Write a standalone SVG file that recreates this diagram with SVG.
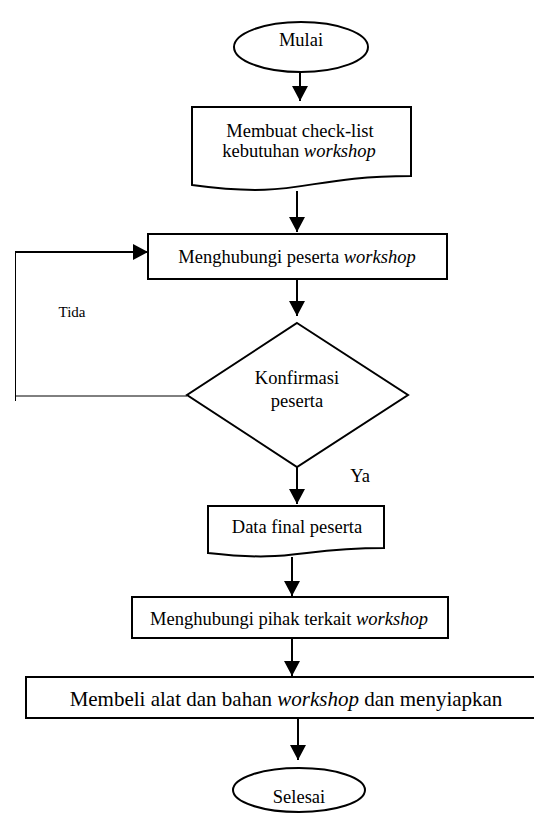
<svg xmlns="http://www.w3.org/2000/svg" width="534" height="816" viewBox="0 0 534 816">
<style>
.shape{fill:#fff;stroke:#000;stroke-width:2}
.conn{fill:none;stroke:#000;stroke-width:2}
.thin{fill:none;stroke:#000;stroke-width:1}
text{font-family:"Liberation Serif","Times New Roman",serif;font-size:18.5px;fill:#000;text-anchor:middle}
.it{font-style:italic}
</style>
<defs>
<marker id="ah" viewBox="0 0 15 16" refX="15" refY="8" markerWidth="15" markerHeight="16" orient="auto" markerUnits="userSpaceOnUse">
<path d="M0,0 L15,8 L0,16 Z" fill="#000"/>
</marker>
</defs>
<rect width="534" height="816" fill="#fff"/>
<g id="connectors">
<path class="conn" d="M300,72 V101" marker-end="url(#ah)"/>
<path class="conn" d="M297,191 V232" marker-end="url(#ah)"/>
<path class="conn" d="M297,279 V316" marker-end="url(#ah)"/>
<path class="thin" d="M187,396 H15.5 V401"/>
<path class="thin" d="M15.5,396 V252"/>
<path class="conn" d="M15,252 H148" marker-end="url(#ah)"/>
<path class="conn" d="M297,467 V504" marker-end="url(#ah)"/>
<path class="conn" d="M292,557 V596" marker-end="url(#ah)"/>
<path class="conn" d="M292,638 V676" marker-end="url(#ah)"/>
<path class="conn" d="M298,719 V760" marker-end="url(#ah)"/>
</g>
<g id="mulai">
<ellipse class="shape" cx="301" cy="47" rx="67" ry="25"/>
<text x="301" y="46">Mulai</text>
</g>
<g id="checklist">
<path class="shape" d="M192,107 H411 V176 C301.5,176 301.5,200 192,185 Z"/>
<text x="300" y="137">Membuat check-list</text>
<text x="299" y="157">kebutuhan <tspan class="it">workshop</tspan></text>
</g>
<g id="hubungi-peserta">
<rect class="shape" x="148" y="234" width="299" height="45"/>
<text x="297" y="263">Menghubungi peserta <tspan class="it">workshop</tspan></text>
</g>
<g id="konfirmasi">
<path class="shape" d="M297,323 L408,395 L297,467 L187,395 Z"/>
<text x="297" y="384">Konfirmasi</text>
<text x="297" y="407">peserta</text>
</g>
<g id="label-tida">
<text x="72" y="317" style="font-size:15px">Tida</text>
</g>
<g id="label-ya">
<text x="360" y="482">Ya</text>
</g>
<g id="data-final">
<path class="shape" d="M208,506 H384 V548 C296,548 296,563 208,553 Z"/>
<text x="297" y="533">Data final peserta</text>
</g>
<g id="hubungi-pihak">
<rect class="shape" x="132" y="597" width="316" height="41"/>
<text x="289" y="625">Menghubungi pihak terkait <tspan class="it">workshop</tspan></text>
</g>
<g id="membeli">
<rect class="shape" x="26" y="677" width="510" height="41"/>
<text x="286" y="706" style="font-size:21px">Membeli alat dan bahan <tspan class="it">workshop</tspan> dan menyiapkan</text>
</g>
<g id="selesai">
<ellipse class="shape" cx="299" cy="790" rx="66" ry="22"/>
<text x="299" y="803">Selesai</text>
</g>
</svg>
